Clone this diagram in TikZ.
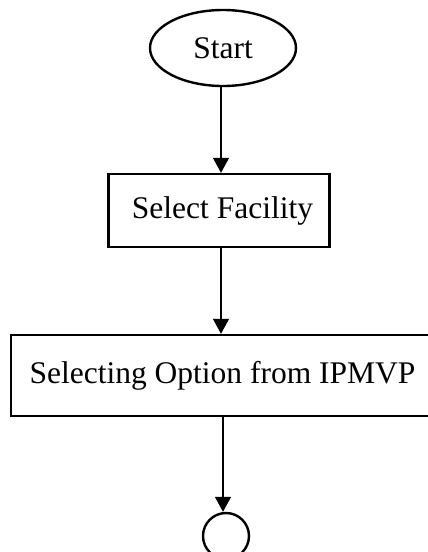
\documentclass[tikz,border=0pt]{standalone}
\usepackage{fontspec}
\setmainfont{Liberation Serif}
\usetikzlibrary{arrows.meta,shapes.geometric}
\tikzset{
  flow/.style={draw=black, line width=2.4pt, inner sep=0pt, font=\fontsize{31.5}{36}\selectfont},
  procbox/.style={flow, rectangle},
  terminal/.style={flow, ellipse},
  connector/.style={flow, circle},
  arr/.style={draw=black, line width=1.2pt, -{Triangle[width=16pt,length=15pt]}}
}
\begin{document}
\begin{tikzpicture}[x=1pt,y=-1pt]
  \useasboundingbox (0,0) rectangle (428,552);
  \clip (0,0) rectangle (428,552);
  \node[terminal, minimum width=146pt, minimum height=76pt] (start) at (223,48) {Start};
  \node[procbox, minimum width=221pt, minimum height=73pt] (fac) at (219,210.5) {\hspace{7pt}Select Facility};
  \node[procbox, minimum width=423pt, minimum height=81pt] (opt) at (222.5,375.5) {Selecting Option from IPMVP};
  \node[connector, minimum size=46pt] (stop) at (226,536) {};
  % vertical guides for the connector lines
  \coordinate (c1) at (221,0);
  \coordinate (c2) at (223,0);
  \draw[arr] (start.south -| c1) -- (fac.north -| c1);
  \draw[arr] (fac.south -| c1) -- (opt.north -| c1);
  \draw[arr] (opt.south -| c2) -- (stop.north -| c2);
\end{tikzpicture}
\end{document}
